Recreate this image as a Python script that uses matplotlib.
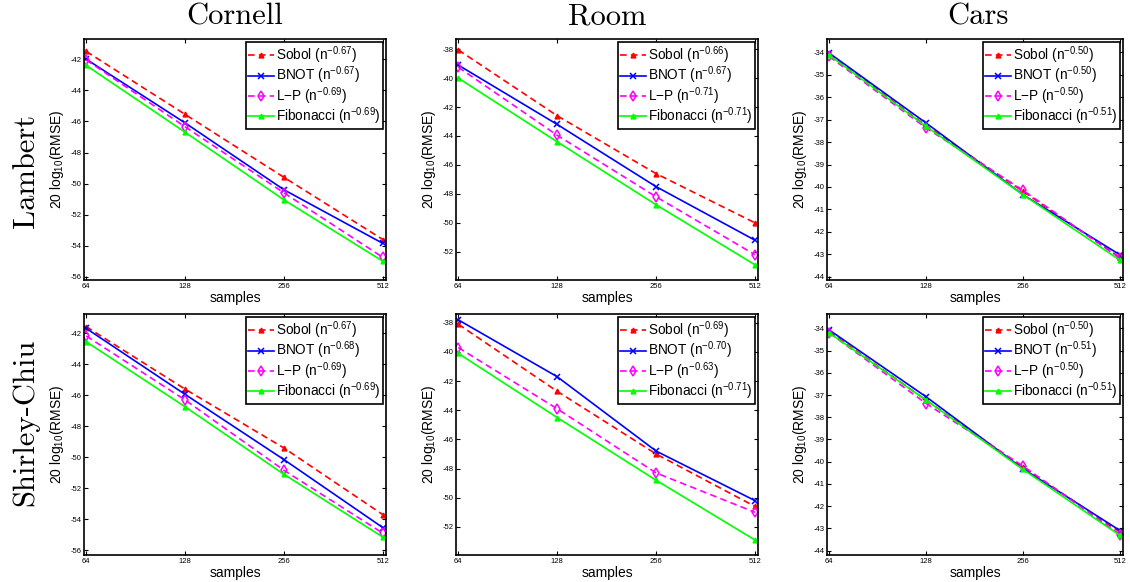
import numpy as np
import matplotlib
matplotlib.use("Agg")
import matplotlib.pyplot as plt

plt.rcParams["font.family"] = ["Liberation Sans", "DejaVu Sans"]
plt.rcParams["mathtext.fontset"] = "custom"
plt.rcParams["mathtext.rm"] = "Liberation Sans"
plt.rcParams["mathtext.it"] = "Liberation Sans:italic"
plt.rcParams["mathtext.default"] = "regular"
plt.rcParams["axes.unicode_minus"] = False

# x values (number of samples)
samples = [64, 128, 256, 512]
methods = ["Sobol", "BNOT", "L\u2212P", "Fibonacci"]
scenes = ["Cornell", "Room", "Cars"]
mappings = ["Lambert", "Shirley-Chiu"]

# 20 log10(RMSE), one row per method: Sobol, BNOT, L-P, Fibonacci
cornell_lambert = [[-41.5, -45.55, -49.6, -53.6],
                   [-42.0, -46.1, -50.4, -53.85],
                   [-42.05, -46.35, -50.6, -54.75],
                   [-42.4, -46.7, -51.05, -55.0]]
room_lambert = [[-38.05, -42.6, -46.6, -50.0],
                [-39.1, -43.2, -47.5, -51.2],
                [-39.25, -43.95, -48.2, -52.2],
                [-40.0, -44.4, -48.75, -52.9]]
cars_lambert = [[-34.07, -37.27, -40.2, -43.15],
                [-34.03, -37.15, -40.35, -43.03],
                [-34.18, -37.37, -40.15, -43.18],
                [-34.12, -37.3, -40.35, -43.27]]
cornell_sc = [[-41.57, -45.6, -49.4, -53.7],
              [-41.68, -45.94, -50.15, -54.54],
              [-42.17, -46.3, -50.84, -54.9],
              [-42.54, -46.74, -51.1, -55.15]]
room_sc = [[-38.1, -42.7, -47.0, -50.6],
           [-37.8, -41.7, -46.8, -50.2],
           [-39.7, -43.9, -48.3, -51.0],
           [-40.1, -44.5, -48.8, -52.9]]
cars_sc = [[-34.15, -37.23, -40.24, -43.17],
           [-34.07, -37.08, -40.32, -43.1],
           [-34.2, -37.38, -40.2, -43.28],
           [-34.2, -37.23, -40.35, -43.32]]

# fitted convergence exponents shown in the legends
cornell_lambert_exp = ["-0.67", "-0.67", "-0.69", "-0.69"]
room_lambert_exp = ["-0.66", "-0.67", "-0.71", "-0.71"]
cars_lambert_exp = ["-0.50", "-0.50", "-0.50", "-0.51"]
cornell_sc_exp = ["-0.67", "-0.68", "-0.69", "-0.69"]
room_sc_exp = ["-0.69", "-0.70", "-0.63", "-0.71"]
cars_sc_exp = ["-0.50", "-0.51", "-0.50", "-0.51"]

panels = [[(cornell_lambert, cornell_lambert_exp), (room_lambert, room_lambert_exp), (cars_lambert, cars_lambert_exp)],
          [(cornell_sc, cornell_sc_exp), (room_sc, room_sc_exp), (cars_sc, cars_sc_exp)]]

ylims = [[(-56.2, -40.7), (-53.95, -37.3), (-44.15, -33.4)],
         [(-56.3, -40.75), (-53.93, -37.4), (-44.2, -33.35)]]
ysteps = [2, 2, 1]

styles = [dict(color=(1, 0, 0), ls="--", marker="^", ms=3.5, mfc=(1, 0, 0)),
          dict(color=(0, 0, 1), ls="-", marker="x", ms=4.5, mew=1.1),
          dict(color=(1, 0, 1), ls="--", marker="d", ms=5, mfc="none", mew=1.1),
          dict(color=(0, 1, 0), ls="-", marker="^", ms=3.5, mfc=(0, 1, 0))]

W, H = 1130, 582
fig = plt.figure(figsize=(W / 100, H / 100), dpi=100)

col_left = [84, 456, 827]
ax_ws = [302, 302, 296]
row_top = [39, 314]
ax_h = 241

for r in range(2):
    for c in range(3):
        ax = fig.add_axes([col_left[c] / W, 1 - (row_top[r] + ax_h) / H, ax_ws[c] / W, ax_h / H])
        data, exps = panels[r][c]
        for k in range(4):
            ax.plot(samples, data[k], lw=1.2, dashes=(4, 2.5) if styles[k]["ls"] == "--" else (None, None),
                    label=methods[k] + " (n$^{" + exps[k] + "}$)", **styles[k])
        ax.set_xscale("log", base=2)
        ax.set_xlim(63, 523)
        ax.set_xticks(samples)
        ax.set_xticklabels([str(s) for s in samples])
        ax.minorticks_off()
        lo, hi = ylims[r][c]
        ax.set_ylim(lo, hi)
        step = ysteps[c]
        ax.set_yticks(np.arange(np.ceil(lo / step) * step, hi, step))
        ax.tick_params(direction="in", top=True, right=True, labelsize=5.5, length=3, pad=2)
        for sp in ax.spines.values():
            sp.set_linewidth(1.2)
        ax.set_xlabel("samples", fontsize=10, labelpad=1)
        ax.set_ylabel("20 log$_{10}$(RMSE)", fontsize=10, labelpad=3)
        leg = ax.legend(loc="upper right", fontsize=9.8, fancybox=False, edgecolor="black",
                        framealpha=1, borderaxespad=0.25, handlelength=1.9, handletextpad=0.15,
                        labelspacing=-0.1, borderpad=0.15)
        leg.get_frame().set_linewidth(1.2)

# column titles and row labels
for c in range(3):
    fig.text((col_left[c] + 151) / W, 1 - 17 / H, scenes[c], family="cmr10",
             fontsize=22, ha="center", va="center")
row_centers = [171, 422]
for r in range(2):
    fig.text(26 / W, 1 - row_centers[r] / H, mappings[r], family="cmr10", fontsize=22,
             rotation=90, ha="center", va="center")

fig.savefig("out.png", dpi=100)
